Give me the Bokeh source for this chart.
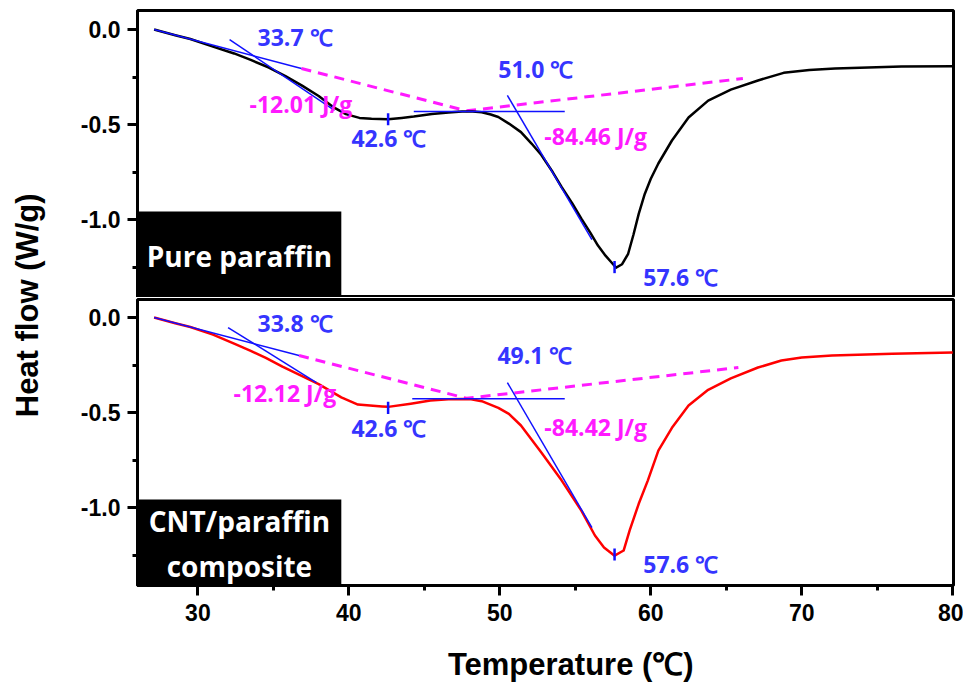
from math import pi
from bokeh.plotting import figure
from bokeh.layouts import row, column
from bokeh.models import (Range1d, SingleIntervalTicker, PrintfTickFormatter,
                          BoxAnnotation, Label, ColumnDataSource)
from bokeh.core.properties import value
from bokeh.embed import file_html
from bokeh.resources import INLINE

# ---------------- data ----------------
# Pure paraffin DSC curve (Temperature in degC, heat flow in W/g)
temp_pure = [27.1, 28.5, 29.5, 31.0, 32.4, 33.5, 34.7, 35.8, 36.9, 38.0, 39.0, 39.8,
             40.7, 41.5, 42.6, 43.5, 44.3, 45.5, 46.6, 47.5, 48.2, 48.8, 49.4, 49.9,
             50.6, 51.4, 52.1, 52.75, 53.5, 54.1, 54.8, 55.4, 56.0, 56.5, 57.0, 57.4,
             57.7, 58.1, 58.5, 58.85, 59.2, 59.6, 60.0, 60.5, 61.4, 62.5, 63.8, 65.3,
             67.1, 68.8, 70.5, 72.2, 76.6, 80.0]
hf_pure = [0.0, -0.03, -0.05, -0.09, -0.126, -0.16, -0.2, -0.245, -0.295, -0.35, -0.41, -0.445,
           -0.465, -0.47, -0.472, -0.465, -0.458, -0.445, -0.437, -0.432, -0.431, -0.435, -0.447, -0.46,
           -0.495, -0.54, -0.6, -0.66, -0.75, -0.83, -0.915, -0.995, -1.07, -1.137, -1.19, -1.226,
           -1.253, -1.235, -1.18, -1.08, -0.97, -0.865, -0.785, -0.705, -0.584, -0.463, -0.374, -0.316,
           -0.268, -0.228, -0.213, -0.205, -0.195, -0.193]

# CNT/paraffin composite DSC curve
temp_cnt = [27.1, 28.5, 29.5, 31.0, 32.4, 33.5, 34.5, 35.6, 36.7, 38.0, 39.5, 40.6,
            42.2, 42.6, 44.1, 45.4, 46.6, 47.5, 48.1, 48.8, 49.9, 50.6, 51.4,
            52.75, 54.1, 55.4, 56.3, 56.9, 57.6, 58.2, 58.6, 59.2, 59.8, 60.5,
            61.4, 62.5, 63.8, 65.3, 67.1, 68.65, 70.0, 72.0, 76.0, 80.0]
hf_cnt = [0.0, -0.03, -0.05, -0.09, -0.137, -0.175, -0.212, -0.258, -0.3, -0.35, -0.42, -0.458,
          -0.468, -0.47, -0.453, -0.436, -0.43, -0.428, -0.43, -0.44, -0.475, -0.507, -0.568,
          -0.71, -0.858, -1.016, -1.147, -1.21, -1.253, -1.226, -1.12, -0.98, -0.858, -0.7,
          -0.58, -0.463, -0.38, -0.32, -0.263, -0.226, -0.21, -0.2, -0.19, -0.184]

# tangent / baseline construction lines (x0, y0, x1, y1)
tan_pure_x0 = [27.1, 32.1, 44.3, 50.5]
tan_pure_y0 = [0.0, -0.053, -0.432, -0.347]
tan_pure_x1 = [36.86, 39.05, 54.3, 56.1]
tan_pure_y1 = [-0.205, -0.426, -0.432, -1.105]
tan_cnt_x0 = [27.1, 32.0, 44.2, 50.5]
tan_cnt_y0 = [0.0, -0.053, -0.427, -0.342]
tan_cnt_x1 = [36.7, 37.85, 54.3, 56.1]
tan_cnt_y1 = [-0.2, -0.342, -0.427, -1.105]

# peak markers
peak_pure_t = [42.6, 57.6]
peak_pure_hf = [-0.472, -1.25]
peak_cnt_t = [42.6, 57.6]
peak_cnt_hf = [-0.475, -1.247]

# integration baselines (dashed)
base_pure_t = [36.86, 47.8, 66.1]
base_pure_hf = [-0.205, -0.428, -0.258]
base_cnt_t = [36.7, 47.8, 65.8]
base_cnt_hf = [-0.2, -0.425, -0.263]

# annotations
temp_text_pure = ["33.7 \u2103", "42.6 \u2103", "51.0 \u2103", "57.6 \u2103"]
temp_text_pure_x = [33.95, 40.17, 49.9, 59.5]
temp_text_pure_y = [-0.037, -0.57, -0.21, -1.3]
enth_text_pure = ["-12.01 J/g", "-84.46 J/g"]
enth_text_pure_x = [33.42, 52.95]
enth_text_pure_y = [-0.39, -0.558]

temp_text_cnt = ["33.8 \u2103", "42.6 \u2103", "49.1 \u2103", "57.6 \u2103"]
temp_text_cnt_x = [33.95, 40.17, 49.84, 59.5]
temp_text_cnt_y = [-0.027, -0.58, -0.195, -1.295]
enth_text_cnt = ["-12.12 J/g", "-84.42 J/g"]
enth_text_cnt_x = [32.36, 52.95]
enth_text_cnt_y = [-0.395, -0.574]

panel_names = ["Pure paraffin", "CNT/paraffin\ncomposite"]

x_title = "Temperature (\u2103)"
y_title = "Heat flow (W/g)"

# ---------------- styling ----------------
BLUE_LINE = "#1010ff"
BLUE_TEXT = "#3535ff"
MAGENTA = "#ff1aff"
ANNOT_FONT = value("Open Sans")
AXIS_FONT = "Liberation Sans"

X0, X1 = 26.0, 80.05
FIG_W = 905
BL, BR = 79, 10


def style_axes(p):
    p.grid.visible = False
    p.outline_line_color = "black"
    p.outline_line_width = 3
    p.outline_line_alpha = 1.0
    for ax in p.axis:
        ax.axis_line_width = 3
        ax.major_tick_line_width = 3
        ax.minor_tick_line_width = 3
        ax.major_tick_in = 0
        ax.major_tick_out = 10
        ax.minor_tick_in = 0
        ax.minor_tick_out = 5
        ax.major_label_text_font = AXIS_FONT
        ax.major_label_text_font_style = "bold"
        ax.major_label_text_font_size = "23px"
        ax.major_label_text_color = "black"
    p.yaxis.ticker = SingleIntervalTicker(interval=0.5, num_minor_ticks=2)
    p.yaxis.formatter = PrintfTickFormatter(format="%.1f")
    p.yaxis.major_label_standoff = 7


def make_panel(height, top_border, bottom_border, y0, y1, show_x,
               t, hf, curve_color,
               tx0, ty0, tx1, ty1, pk_t, pk_hf, bt, bhf,
               ttext, ttx, tty, etext, etx, ety, name):
    p = figure(width=FIG_W, height=height,
               x_range=Range1d(X0, X1), y_range=Range1d(y0, y1),
               output_backend="svg", toolbar_location=None,
               x_axis_location="below" if show_x else None,
               min_border_left=BL, min_border_right=BR,
               min_border_top=top_border, min_border_bottom=bottom_border)
    style_axes(p)
    if show_x:
        p.xaxis.ticker = SingleIntervalTicker(interval=10, num_minor_ticks=2)
        p.xaxis.major_label_standoff = 8

    # black label box
    p.add_layout(BoxAnnotation(right=39.5, top=-0.958, fill_color="black",
                               fill_alpha=1.0, line_alpha=0.0))

    # dashed baseline
    p.line(bt, bhf, line_color=MAGENTA, line_width=3, line_dash="10 7")
    # curve
    p.line(t, hf, line_color=curve_color, line_width=2.5, line_join="round")
    # tangents
    p.segment(x0=tx0, y0=ty0, x1=tx1, y1=ty1, line_color=BLUE_LINE, line_width=1.5)
    # peak marks
    p.segment(x0=pk_t, y0=[v + 0.032 for v in pk_hf], x1=pk_t,
              y1=[v - 0.032 for v in pk_hf], line_color=BLUE_LINE, line_width=2.5)

    src_t = ColumnDataSource(dict(x=ttx, y=tty, text=ttext))
    p.text(x="x", y="y", text="text", source=src_t, text_color=BLUE_TEXT,
           text_font=ANNOT_FONT, text_font_style="bold", text_font_size="23px",
           text_align="left", text_baseline="middle")
    src_e = ColumnDataSource(dict(x=etx, y=ety, text=etext))
    p.text(x="x", y="y", text="text", source=src_e, text_color=MAGENTA,
           text_font=ANNOT_FONT, text_font_style="bold", text_font_size="23px",
           text_align="left", text_baseline="middle")

    p.add_layout(Label(x=(X0 + 39.5) / 2, y=-1.19, text=name, text_color="white",
                       text_font="Open Sans", text_font_style="bold",
                       text_font_size="28px", text_align="center",
                       text_baseline="middle", text_line_height=1.2))
    return p


top = make_panel(297, 10, 0, -1.41, 0.1, False,
                 temp_pure, hf_pure, "black",
                 tan_pure_x0, tan_pure_y0, tan_pure_x1, tan_pure_y1,
                 peak_pure_t, peak_pure_hf, base_pure_t, base_pure_hf,
                 temp_text_pure, temp_text_pure_x, temp_text_pure_y,
                 enth_text_pure, enth_text_pure_x, enth_text_pure_y, panel_names[0])

bottom = make_panel(333, 2, 45, -1.41, 0.095, True,
                    temp_cnt, hf_cnt, "#ff0000",
                    tan_cnt_x0, tan_cnt_y0, tan_cnt_x1, tan_cnt_y1,
                    peak_cnt_t, peak_cnt_hf, base_cnt_t, base_cnt_hf,
                    temp_text_cnt, temp_text_cnt_x, temp_text_cnt_y,
                    enth_text_cnt, enth_text_cnt_x, enth_text_cnt_y, panel_names[1])

# x-axis title strip
xlab = figure(width=FIG_W, height=55, x_range=Range1d(X0, X1), y_range=Range1d(0, 1),
              output_backend="svg", toolbar_location=None,
              x_axis_location=None, y_axis_location=None,
              min_border_left=BL, min_border_right=BR, min_border_top=0, min_border_bottom=0)
xlab.grid.visible = False
xlab.outline_line_color = None
xlab.add_layout(Label(x=54.7, y=0.38, text=x_title, text_color="black",
                      text_font=AXIS_FONT, text_font_style="bold",
                      text_font_size="31px", text_align="center",
                      text_baseline="middle"))

# y-axis title strip
ylab = figure(width=58, height=685, x_range=Range1d(0, 1), y_range=Range1d(0, 1),
              output_backend="svg", toolbar_location=None,
              x_axis_location=None, y_axis_location=None, min_border=0)
ylab.grid.visible = False
ylab.outline_line_color = None
ylab.add_layout(Label(x=27 / 58, y=0.555, text=y_title, angle=pi / 2,
                      text_color="black", text_font=AXIS_FONT,
                      text_font_style="bold", text_font_size="31px",
                      text_align="center", text_baseline="middle"))

layout = row(ylab, column(top, bottom, xlab))

open("out.html", "w").write(file_html(layout, INLINE))
